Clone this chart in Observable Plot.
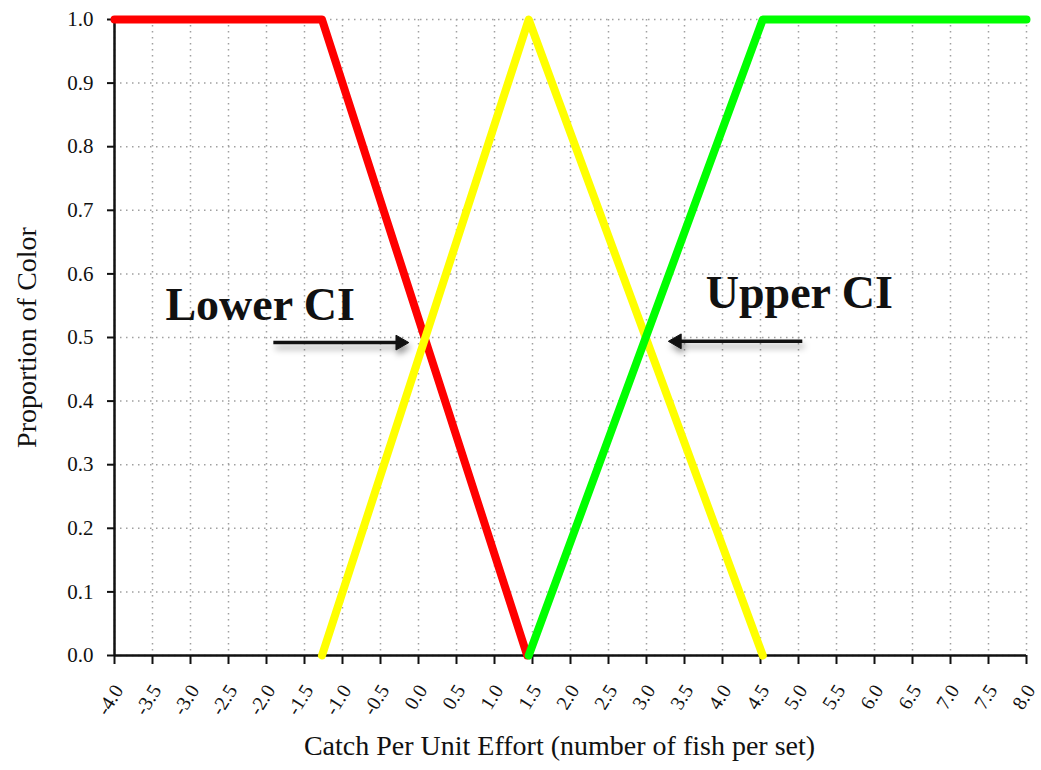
<!DOCTYPE html>
<html>
<head>
<meta charset="utf-8">
<script src="https://cdn.jsdelivr.net/npm/d3@7"></script>
<script src="https://cdn.jsdelivr.net/npm/@observablehq/plot@0.6"></script>
<style>
  html, body { margin: 0; padding: 0; background: #fff; }
  #chart svg { display: block; }
</style>
</head>
<body>
<div id="chart"></div>
<script>
// Data
const redX = [-4.0, -1.27, 1.43];
const redY = [1.0, 1.0, 0.0];
const yellowX = [-1.27, 1.45, 4.53];
const yellowY = [0.0, 1.0, 0.0];
const greenX = [1.45, 4.53, 8.0];
const greenY = [0.0, 1.0, 1.0];

const xTicks = d3.range(-4, 8.001, 0.5);
const yTicks = d3.range(0, 1.001, 0.1);

const annotations = [
  {label: "Lower CI", x: -3.33, y: 0.527},
  {label: "Upper CI", x: 3.78, y: 0.547}
];
const arrowsData = [
  {x1: -1.91, x2: -0.24, y: 0.492, dir: 90},
  {x1: 5.05, x2: 3.40, y: 0.494, dir: -90}
];
const xTitle = "Catch Per Unit Effort (number of fish per set)";
const yTitle = "Proportion of Color";

const series = [
  {name: "red", color: "#ff0000", xs: redX, ys: redY},
  {name: "yellow", color: "#ffff00", xs: yellowX, ys: yellowY},
  {name: "green", color: "#00ff00", xs: greenX, ys: greenY}
];
const pts = s => s.xs.map((x, i) => ({x, y: s.ys[i]}));

const font = "'Liberation Serif', 'Times New Roman', serif";

const chart = Plot.plot({
  width: 1041,
  height: 770,
  marginLeft: 114,
  marginRight: 15,
  marginTop: 19,
  marginBottom: 115,
  style: {fontFamily: font, background: "#fff", color: "#111"},
  x: {domain: [-4, 8]},
  y: {domain: [0, 1]},
  marks: [
    Plot.gridX(xTicks, {stroke: "#a0a0a0", strokeOpacity: 1, strokeDasharray: "1.5,4.5", strokeWidth: 1.5}),
    Plot.gridY(yTicks, {stroke: "#a0a0a0", strokeOpacity: 1, strokeDasharray: "1.5,4.5", strokeWidth: 1.5}),
    Plot.axisY({ticks: yTicks, tickFormat: d => d.toFixed(1), tickSize: 7, tickPadding: 14, fontSize: 21, strokeWidth: 2, label: null}),
    Plot.axisX({ticks: xTicks, tickFormat: d => d.toFixed(1), tickSize: 9, tickPadding: 14, tickRotate: -58, fontSize: 20, strokeWidth: 2, label: null}),
    Plot.ruleX([-4], {stroke: "#111", strokeWidth: 2.5}),
    Plot.ruleY([0], {stroke: "#111", strokeWidth: 2.5}),
    ...series.map(s => Plot.line(pts(s), {x: "x", y: "y", stroke: s.color, strokeWidth: 8, strokeLinejoin: "round", strokeLinecap: "round"})),
    Plot.link(arrowsData, {x1: "x1", x2: "x2", y1: "y", y2: "y", stroke: "#111", strokeWidth: 3.5}),
    Plot.dot(arrowsData, {x: "x2", y: "y", symbol: "triangle", rotate: "dir", r: 5.5, fill: "#111", stroke: "#111", strokeWidth: 1}),
    Plot.text(annotations, {x: "x", y: "y", text: "label", textAnchor: "start", lineAnchor: "bottom", fontSize: 46, fontWeight: "bold", fill: "#111"}),
    Plot.text([yTitle], {frameAnchor: "left", textAnchor: "middle", dx: -87, rotate: -90, fontSize: 28, fill: "#111"}),
    Plot.text([xTitle], {frameAnchor: "bottom", textAnchor: "middle", dx: -11, dy: 99, fontSize: 28, fill: "#111"})
  ]
});
document.getElementById("chart").appendChild(chart);
// shift rotated x tick labels slightly to match reference placement
chart.querySelectorAll('g[aria-label="x-axis tick label"] text').forEach(t => {
  const tr = t.getAttribute("transform") || "";
  t.setAttribute("transform", "translate(4,8) " + tr);
});
chart.querySelectorAll('g[aria-label="link"], g[aria-label="dot"]').forEach(g => {
  g.style.filter = "drop-shadow(2px 5px 3px rgba(0,0,0,0.35))";
});
</script>
</body>
</html>
